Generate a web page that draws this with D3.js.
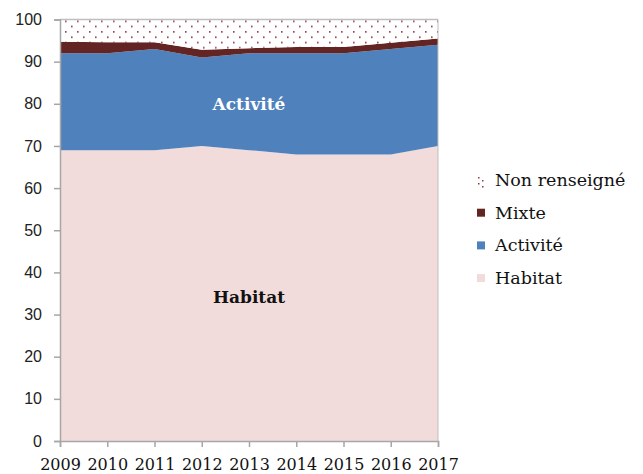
<!DOCTYPE html>
<html>
<head>
<meta charset="utf-8">
<script src="https://cdn.jsdelivr.net/npm/d3@7"></script>
<style>
  body { margin: 0; background: #fff; }
</style>
</head>
<body>
<script>
// données (en %)
var years = [2009, 2010, 2011, 2012, 2013, 2014, 2015, 2016, 2017];
var habitat = [69, 69, 69, 70, 69, 68, 68, 68, 70];
var activite = [23, 23, 24, 21, 23, 24, 24, 25, 24];
var mixte = [2.7, 2.6, 1.6, 1.8, 1.2, 1.5, 1.5, 1.5, 1.5];
var nonRens = [5.3, 5.4, 5.4, 7.2, 6.8, 6.5, 6.5, 5.5, 4.5];
var yTicks = [0, 10, 20, 30, 40, 50, 60, 70, 80, 90, 100];

var keys = ["Habitat", "Activité", "Mixte", "Non renseigné"];
var colors = {"Habitat": "#f2dcdb", "Activité": "#4f81bd", "Mixte": "#632523", "Non renseigné": "url(#dots)"};

var w = 643, h = 474;
var plotLeft = 60, plotRight = 438, plotTop = 19.5, plotBottom = 441;

var rows = years.map(function(y, i) {
  return {year: y, "Habitat": habitat[i], "Activité": activite[i], "Mixte": mixte[i], "Non renseigné": nonRens[i]};
});

var svg = d3.select("body").append("svg")
  .attr("width", w)
  .attr("height", h);

// motif à points pour "Non renseigné"
var pat = svg.append("defs").append("pattern")
  .attr("id", "dots")
  .attr("patternUnits", "userSpaceOnUse")
  .attr("width", 12).attr("height", 10.6)
  .attr("x", plotLeft + 5).attr("y", plotTop + 1);
pat.append("rect").attr("width", 12).attr("height", 10.6).attr("fill", "#fff");
pat.append("rect").attr("x", 0).attr("y", 0).attr("width", 1.6).attr("height", 1.6).attr("fill", "#8c3a3a");
pat.append("rect").attr("x", 6).attr("y", 5.3).attr("width", 1.6).attr("height", 1.6).attr("fill", "#8c3a3a");

var x = d3.scaleLinear().domain([2009, 2017]).range([plotLeft, plotRight]);
var y = d3.scaleLinear().domain([0, 100]).range([plotBottom, plotTop]);

var series = d3.stack().keys(keys)(rows);

var area = d3.area()
  .x(function(d) { return x(d.data.year); })
  .y0(function(d) { return y(d[0]); })
  .y1(function(d) { return y(d[1]); });

svg.selectAll("path.layer")
  .data(series)
  .enter().append("path")
  .attr("class", "layer")
  .attr("d", area)
  .attr("fill", function(d) { return colors[d.key]; });

// cadre gris haut et droite
svg.append("line")
  .attr("x1", plotLeft).attr("x2", plotRight)
  .attr("y1", y(100)).attr("y2", y(100))
  .attr("stroke", "#bfbfbf").attr("stroke-width", 1.5);
svg.append("line")
  .attr("x1", plotRight).attr("x2", plotRight)
  .attr("y1", y(100)).attr("y2", y(0))
  .attr("stroke", "#bfbfbf").attr("stroke-width", 1);

// axe Y
var yAxis = d3.axisLeft(y).tickValues(yTicks).tickSize(6).tickPadding(12);
var gy = svg.append("g")
  .attr("transform", "translate(" + plotLeft + ",0)")
  .call(yAxis);
gy.select(".domain").attr("stroke", "#a6a6a6").attr("stroke-width", 1.5);
gy.selectAll(".tick line").attr("stroke", "#a6a6a6").attr("stroke-width", 1.5);
gy.selectAll("text")
  .attr("font-family", "Liberation Sans, Arial, sans-serif")
  .attr("font-size", "16px")
  .attr("fill", "#222");

// axe X
var xAxis = d3.axisBottom(x).tickValues(years).tickFormat(d3.format("d")).tickSize(6).tickPadding(12);
var gx = svg.append("g")
  .attr("transform", "translate(0," + plotBottom + ")")
  .call(xAxis);
gx.select(".domain").attr("stroke", "#a6a6a6").attr("stroke-width", 1.5);
gx.selectAll(".tick line").attr("stroke", "#a6a6a6").attr("stroke-width", 1.5);
gx.selectAll("text")
  .attr("font-family", "DejaVu Serif, serif")
  .attr("font-size", "16px")
  .attr("fill", "#111");

// étiquettes dans les aires
svg.append("text")
  .attr("x", (plotLeft + plotRight) / 2).attr("y", 110)
  .attr("text-anchor", "middle")
  .attr("font-family", "DejaVu Serif, serif")
  .attr("font-weight", "bold")
  .attr("font-size", "17px")
  .attr("fill", "#fff")
  .text("Activité");
svg.append("text")
  .attr("x", (plotLeft + plotRight) / 2).attr("y", 303)
  .attr("text-anchor", "middle")
  .attr("font-family", "DejaVu Serif, serif")
  .attr("font-weight", "bold")
  .attr("font-size", "17px")
  .attr("fill", "#111")
  .text("Habitat");

// légende
var legendKeys = keys.slice().reverse();
var lg = svg.selectAll("g.legend")
  .data(legendKeys)
  .enter().append("g")
  .attr("class", "legend")
  .attr("transform", function(d, i) { return "translate(476," + (186 + i * 32.7) + ")"; });

lg.each(function(d) {
  var g = d3.select(this);
  if (d === "Non renseigné") {
    [[2, -9], [6, -6], [2, -3], [6, 0]].forEach(function(p) {
      g.append("rect").attr("x", p[0]).attr("y", p[1]).attr("width", 1.5).attr("height", 1.5).attr("fill", "#8c3a3a");
    });
  } else {
    g.append("rect")
      .attr("x", 1).attr("y", -10)
      .attr("width", 8).attr("height", 8)
      .attr("fill", colors[d]);
  }
});

lg.append("text")
  .attr("x", 19).attr("y", 0)
  .attr("font-family", "DejaVu Serif, serif")
  .attr("font-size", "17.5px")
  .attr("fill", "#111")
  .text(function(d) { return d; });
</script>
</body>
</html>
